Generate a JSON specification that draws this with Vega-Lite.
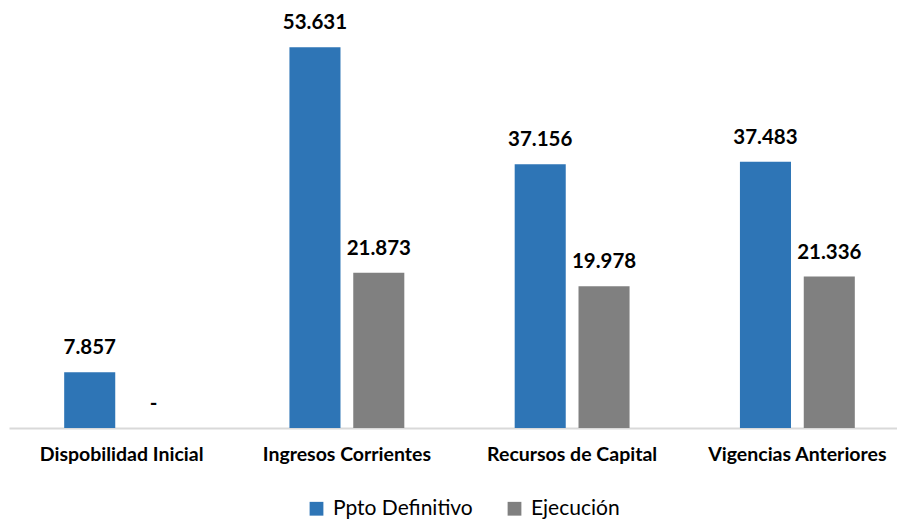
{
  "$schema": "https://vega.github.io/schema/vega-lite/v6.json",
  "width": 901,
  "height": 426,
  "padding": {"left": 9, "top": 2, "right": 0, "bottom": 93},
  "autosize": {"type": "none"},
  "background": "white",
  "config": {"view": {"stroke": null}, "font": "Lato"},
  "data": {
    "values": [
      {"categoria": "Dispobilidad Inicial", "serie": "Ppto Definitivo", "valor": 7.857},
      {"categoria": "Dispobilidad Inicial", "serie": "Ejecución", "valor": 0},
      {"categoria": "Ingresos Corrientes", "serie": "Ppto Definitivo", "valor": 53.631},
      {"categoria": "Ingresos Corrientes", "serie": "Ejecución", "valor": 21.873},
      {"categoria": "Recursos de Capital", "serie": "Ppto Definitivo", "valor": 37.156},
      {"categoria": "Recursos de Capital", "serie": "Ejecución", "valor": 19.978},
      {"categoria": "Vigencias Anteriores", "serie": "Ppto Definitivo", "valor": 37.483},
      {"categoria": "Vigencias Anteriores", "serie": "Ejecución", "valor": 21.336}
    ]
  },
  "transform": [
    {"calculate": "datum.valor === 0 ? '-' : format(datum.valor, '.3f')", "as": "etiqueta"}
  ],
  "encoding": {
    "x": {
      "field": "categoria", "type": "nominal", "sort": null,
      "scale": {"paddingInner": 0.49, "paddingOuter": 0.245},
      "axis": {
        "title": null, "labelAngle": 0, "ticks": false,
        "domainColor": "#d9d9d9", "domainWidth": 2,
        "labelFont": "Lato", "labelFontSize": 19.5, "labelFontWeight": "bold",
        "labelColor": "#000000", "labelPadding": 17
      }
    },
    "xOffset": {
      "field": "serie", "type": "nominal", "sort": ["Ppto Definitivo", "Ejecución"],
      "scale": {"paddingInner": 0.2, "paddingOuter": 0}
    },
    "y": {
      "field": "valor", "type": "quantitative",
      "scale": {"domain": [0, 60], "nice": false},
      "axis": null
    }
  },
  "layer": [
    {
      "mark": {"type": "bar"},
      "encoding": {
        "color": {
          "field": "serie", "type": "nominal",
          "sort": ["Ppto Definitivo", "Ejecución"],
          "scale": {"domain": ["Ppto Definitivo", "Ejecución"], "range": ["#2e75b6", "#808080"]},
          "legend": {
            "title": null, "orient": "none", "direction": "horizontal",
            "legendX": 297, "legendY": 496,
            "symbolType": "square", "symbolSize": 190, "symbolStrokeWidth": 0,
            "labelFont": "Lato", "labelFontSize": 21, "labelColor": "#000000",
            "columnPadding": 31, "labelOffset": 6
          }
        }
      }
    },
    {
      "mark": {"type": "text", "baseline": "bottom", "dy": -14, "font": "Lato", "fontSize": 20.5, "fontWeight": "bold", "color": "#000000"},
      "encoding": {"text": {"field": "etiqueta"}}
    }
  ]
}
